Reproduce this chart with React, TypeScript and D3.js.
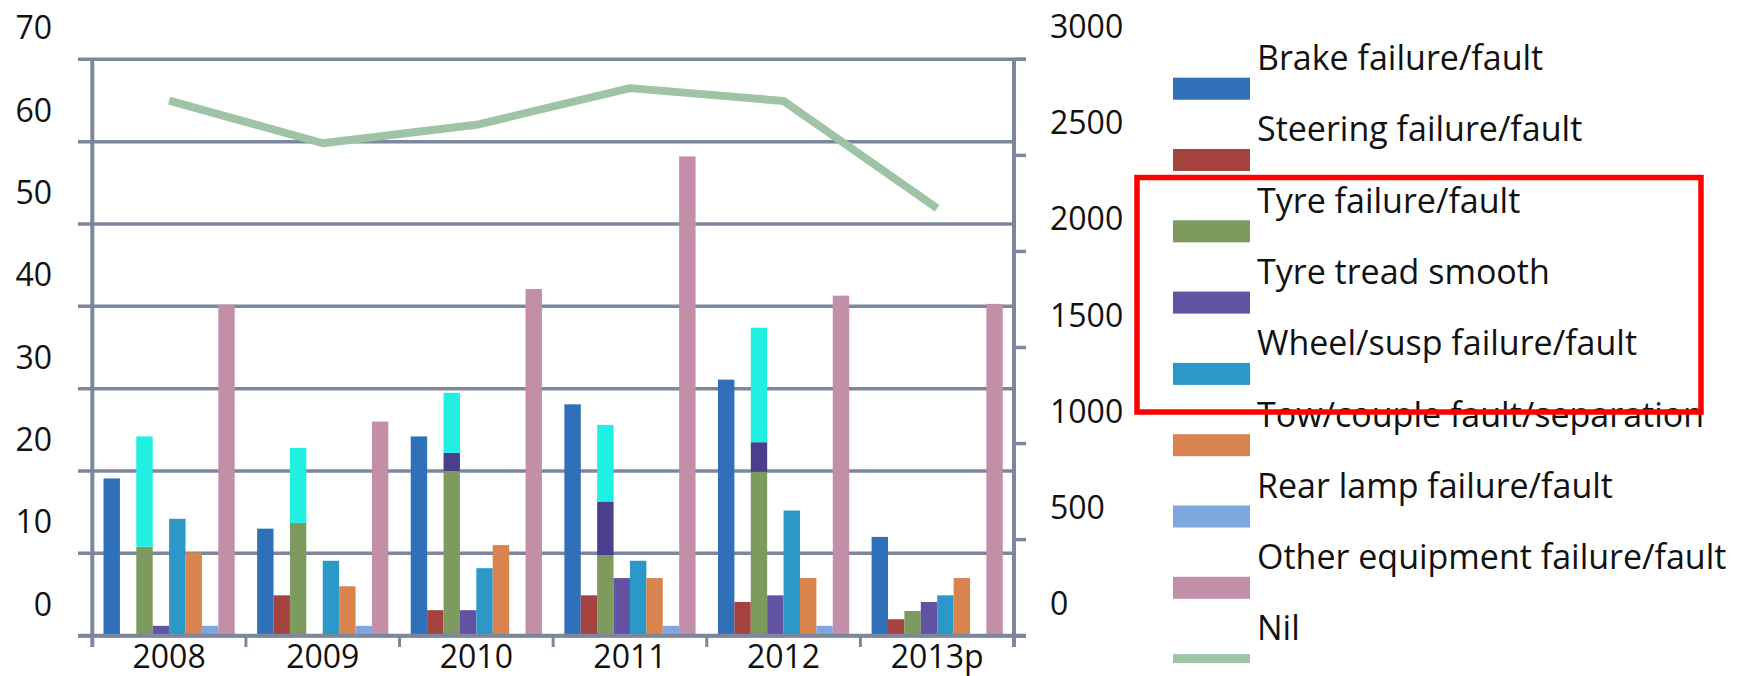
import React from "react";
import * as d3 from "d3";

// Road-crash contributing factors by year (left axis) and "Nil" total (right axis)
const categories = ["2008", "2009", "2010", "2011", "2012", "2013p"];

const brake = [19.1, 13.0, 24.2, 28.1, 31.1, 12.0];
const steering = [0, 4.9, 3.1, 4.9, 4.1, 2.0];
const tyre = [10.8, 13.7, 20.0, 9.8, 19.9, 3.0];
const tread = [1.2, 0, 3.1, 7.0, 4.9, 4.1];
const wheel = [14.2, 9.1, 8.2, 9.1, 15.2, 4.9];
const tow = [10.1, 6.0, 11.0, 7.0, 7.0, 7.0];
const rearLamp = [1.2, 1.2, 0, 1.2, 1.2, 0];
const other = [40.2, 26.0, 42.1, 58.2, 41.3, 40.3];
const nil = [2785, 2563, 2659, 2850, 2783, 2225];

// Highlight segments stacked on top of the tyre column
const tyreStackTread = [0, 0, 2.2, 6.5, 3.6, 0];
const tyreStackWheel = [13.4, 9.1, 7.3, 9.3, 13.9, 0];

const leftTicks = [0, 10, 20, 30, 40, 50, 60, 70];
const rightTicks = [0, 500, 1000, 1500, 2000, 2500, 3000];

const seriesNames = [
  "Brake failure/fault",
  "Steering failure/fault",
  "Tyre failure/fault",
  "Tyre tread smooth",
  "Wheel/susp failure/fault",
  "Tow/couple fault/separation",
  "Rear lamp failure/fault",
  "Other equipment failure/fault",
];
const seriesValues = [brake, steering, tyre, tread, wheel, tow, rearLamp, other];
const seriesColors = [
  "#2f70b9",
  "#a3423f",
  "#7d9a5f",
  "#6152a2",
  "#2b98c8",
  "#d9834f",
  "#7ea7df",
  "#c28ea8",
];
const nilName = "Nil";
const nilColor = "#9ec3a5";
const stackTreadColor = "#4b3f8d";
const stackWheelColor = "#1ff0e2";

const axisColor = "#7c879e";
const FONT = "'Open Sans', Lato, sans-serif";

export default function App() {
  const W = 1739;
  const H = 676;
  const x0Left = 92.3;
  const x0Right = 1014;
  const yTop = 59.3;
  const yBottom = 635.7;

  const x = d3.scaleBand<string>().domain(categories).range([x0Left, x0Right]).padding(0);
  const bw = x.bandwidth();
  const inner = d3
    .scaleBand<number>()
    .domain(d3.range(seriesValues.length))
    .range([bw * 0.073, bw * 0.927])
    .padding(0);
  const yL = d3.scaleLinear().domain([0, 70]).range([yBottom, yTop]);
  const yR = d3.scaleLinear().domain([0, 3000]).range([yBottom, yTop]);

  const nilLine = d3
    .line<number>()
    .x((_, i) => (x(categories[i]) as number) + bw / 2)
    .y((v) => yR(v));

  const tyreIdx = 2;
  const legendTop = 77.7;
  const legendStep = 71.3;
  const swX = 1173;
  const swW = 77;
  const swH = 22;
  const textX = 1257;
  const fs = 32;
  const legendFs = 34;

  const legendItems = [
    ...seriesNames.map((n, i) => ({ name: n, color: seriesColors[i], line: false })),
    { name: nilName, color: nilColor, line: true },
  ];

  return (
    <svg
      width={W}
      height={H}
      style={{ position: "absolute", left: 0, top: 0, background: "#fff" }}
      fontFamily={FONT}
    >
      {/* horizontal gridlines */}
      {leftTicks.map((t) => (
        <line
          key={"g" + t}
          x1={78}
          x2={t === 70 || t === 0 ? 1026 : x0Right}
          y1={yL(t)}
          y2={yL(t)}
          stroke={axisColor}
          strokeWidth={3.5}
        />
      ))}

      {/* bars */}
      {categories.map((c, ci) => (
        <g key={c} transform={`translate(${x(c)},0)`}>
          {seriesValues.map((vals, si) => {
            const v = vals[ci];
            if (!v) return null;
            return (
              <rect
                key={si}
                x={inner(si)}
                width={inner.bandwidth()}
                y={yL(v)}
                height={yL(0) - yL(v)}
                fill={seriesColors[si]}
              />
            );
          })}
          {tyreStackTread[ci] > 0 && (
            <rect
              x={inner(tyreIdx)}
              width={inner.bandwidth()}
              y={yL(tyre[ci] + tyreStackTread[ci])}
              height={yL(tyre[ci]) - yL(tyre[ci] + tyreStackTread[ci])}
              fill={stackTreadColor}
            />
          )}
          {tyreStackWheel[ci] > 0 && (
            <rect
              x={inner(tyreIdx)}
              width={inner.bandwidth()}
              y={yL(tyre[ci] + tyreStackTread[ci] + tyreStackWheel[ci])}
              height={
                yL(tyre[ci] + tyreStackTread[ci]) -
                yL(tyre[ci] + tyreStackTread[ci] + tyreStackWheel[ci])
              }
              fill={stackWheelColor}
            />
          )}
        </g>
      ))}

      {/* axes */}
      <line x1={x0Left} x2={x0Left} y1={yTop} y2={647} stroke={axisColor} strokeWidth={4} />
      <line x1={x0Right} x2={x0Right} y1={yTop} y2={647} stroke={axisColor} strokeWidth={4} />
      <line x1={78} x2={1026} y1={yBottom} y2={yBottom} stroke={axisColor} strokeWidth={4} />
      {categories.slice(1).map((c) => (
        <line
          key={"t" + c}
          x1={x(c)}
          x2={x(c)}
          y1={yBottom}
          y2={647}
          stroke={axisColor}
          strokeWidth={3}
        />
      ))}
      {rightTicks.map((t) => (
        <line
          key={"rt" + t}
          x1={x0Right}
          x2={1026}
          y1={yR(t)}
          y2={yR(t)}
          stroke={axisColor}
          strokeWidth={3.5}
        />
      ))}

      {/* Nil line on the right axis */}
      <path
        d={nilLine(nil) || ""}
        fill="none"
        stroke={nilColor}
        strokeWidth={8}
        strokeLinejoin="round"
      />

      {/* tick labels */}
      {leftTicks.map((t) => (
        <text key={"ll" + t} x={52} y={yL(t) - 20} textAnchor="end" fontSize={fs} fill="#111">
          {t}
        </text>
      ))}
      {rightTicks.map((t) => (
        <text key={"rl" + t} x={1050} y={yR(t) - 21} textAnchor="start" fontSize={fs} fill="#111">
          {t}
        </text>
      ))}
      {categories.map((c) => (
        <text
          key={"cl" + c}
          x={(x(c) as number) + bw / 2}
          y={668}
          textAnchor="middle"
          fontSize={fs}
          fill="#111"
        >
          {c}
        </text>
      ))}

      {/* legend */}
      {legendItems.map((it, i) => (
        <g key={it.name}>
          {it.line ? (
            <rect
              x={swX}
              y={legendTop + legendStep * i + 6}
              width={swW}
              height={9}
              fill={it.color}
            />
          ) : (
            <rect
              x={swX}
              y={legendTop + legendStep * i}
              width={swW}
              height={swH}
              fill={it.color}
            />
          )}
          <text x={textX} y={70 + legendStep * i} fontSize={legendFs} fill="#111">
            {it.name}
          </text>
        </g>
      ))}

      {/* red highlight frame around the tyre and wheel entries */}
      <rect
        x={1137}
        y={177.5}
        width={564}
        height={234.5}
        fill="none"
        stroke="#ff0000"
        strokeWidth={5.5}
      />
    </svg>
  );
}
